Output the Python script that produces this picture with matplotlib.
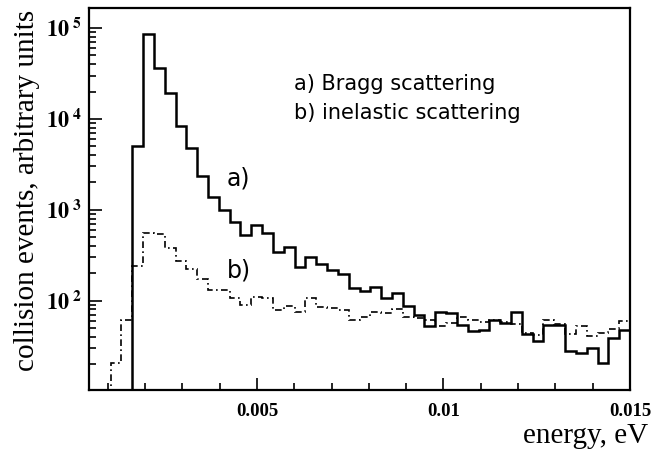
import numpy as np
import matplotlib
matplotlib.use("Agg")
import matplotlib.pyplot as plt
from matplotlib.ticker import FixedLocator, FixedFormatter, NullFormatter

# ---- data ----
e_lo, e_hi, n_bins = 0.0005, 0.015, 50
bragg = [0, 0, 0, 0, 5070, 85300, 36600, 19100, 8360, 4820,
         2370, 1393, 996, 728, 528, 681, 551, 341, 393, 233,
         305, 253, 218, 195, 137, 128, 140, 106, 122, 88,
         70, 53, 74.5, 72.6, 54, 46.8, 48, 61, 57, 75.7,
         43, 36.3, 54, 54, 28, 26.8, 30, 20.8, 38.6, 47.6]
inelastic = [0, 0, 20.8, 61.4, 241, 551, 540, 377, 274, 221,
             172, 131, 130, 106, 90, 111, 106, 79, 88, 75.7,
             106, 84.6, 82.5, 79, 61.4, 65.7, 75.7, 72.6, 80.4, 66.7,
             64, 61.4, 52.7, 57.3, 66.7, 61.4, 57.8, 61.4, 58.8, 55.4,
             43.8, 42, 61.4, 55.4, 43, 53, 41, 43.8, 48.4, 60]
x_major = [0.005, 0.01, 0.015]
x_major_labels = ["0.005", "0.01", "0.015"]
y_major = [1e2, 1e3, 1e4, 1e5]
y_major_labels = [r"$\mathbf{10}^{\ \mathbf{2}}$", r"$\mathbf{10}^{\ \mathbf{3}}$",
                  r"$\mathbf{10}^{\ \mathbf{4}}$", r"$\mathbf{10}^{\ \mathbf{5}}$"]

plt.rcParams['mathtext.fontset'] = 'stix'
plt.rcParams['font.family'] = ['Liberation Serif', 'DejaVu Serif']

W, H = 651, 455
fig = plt.figure(figsize=(W/100, H/100), dpi=100)
ax = fig.add_axes([89/W, 1-390/H, (630-89)/W, (390-8)/H])

edges = np.linspace(e_lo, e_hi, n_bins + 1)
ax.stairs(np.clip(bragg, 1, None), edges, color='black', lw=1.8, baseline=None)
ax.stairs(np.clip(inelastic, 1, None), edges, color='black', lw=1.2,
          linestyle=(0, (4, 2, 1, 2)), baseline=None)

ax.set_yscale('log')
ax.set_xlim(e_lo, e_hi)
ax.set_ylim(10.4, 1.66e5)

ax.xaxis.set_major_locator(FixedLocator(x_major))
ax.xaxis.set_major_formatter(FixedFormatter(x_major_labels))
ax.xaxis.set_minor_locator(FixedLocator(np.arange(0.001, 0.015, 0.001)))
ax.yaxis.set_major_locator(FixedLocator(y_major))
ax.yaxis.set_major_formatter(FixedFormatter(y_major_labels))
minor_y = [m * 10**d for d in range(1, 6) for m in range(2, 10)]
ax.yaxis.set_minor_locator(FixedLocator(minor_y))
ax.yaxis.set_minor_formatter(NullFormatter())

ax.tick_params(which='both', direction='in', width=1.2, top=False, right=False)
ax.tick_params(which='major', length=9)
ax.tick_params(which='minor', length=5)
ax.tick_params(axis='x', which='major', pad=9, labelsize=13.5)
ax.tick_params(axis='y', which='major', pad=5, labelsize=16)
for lab in ax.get_xticklabels():
    lab.set_fontweight('bold')
for s in ax.spines.values():
    s.set_linewidth(1.6)

fig.text(27/W, 1-190/H, "collision events, arbitrary units", rotation=90,
         ha='center', va='center', fontsize=21)
fig.text(648/W, 1-436/H, "energy, eV", ha='right', va='center', fontsize=21)

sans = ['DejaVu Sans']
ax.text((294-89)/541, (390-84)/382, "a) Bragg scattering", transform=ax.transAxes,
        fontsize=15, family=sans, va='center', ha='left')
ax.text((294-89)/541, (390-113)/382, "b) inelastic scattering", transform=ax.transAxes,
        fontsize=15, family=sans, va='center', ha='left')
ax.text((227-89)/541, (390-179)/382, "a)", transform=ax.transAxes,
        fontsize=17, family=sans, va='center', ha='left')
ax.text((227-89)/541, (390-271)/382, "b)", transform=ax.transAxes,
        fontsize=17, family=sans, va='center', ha='left')

fig.savefig("out.png", dpi=100)
